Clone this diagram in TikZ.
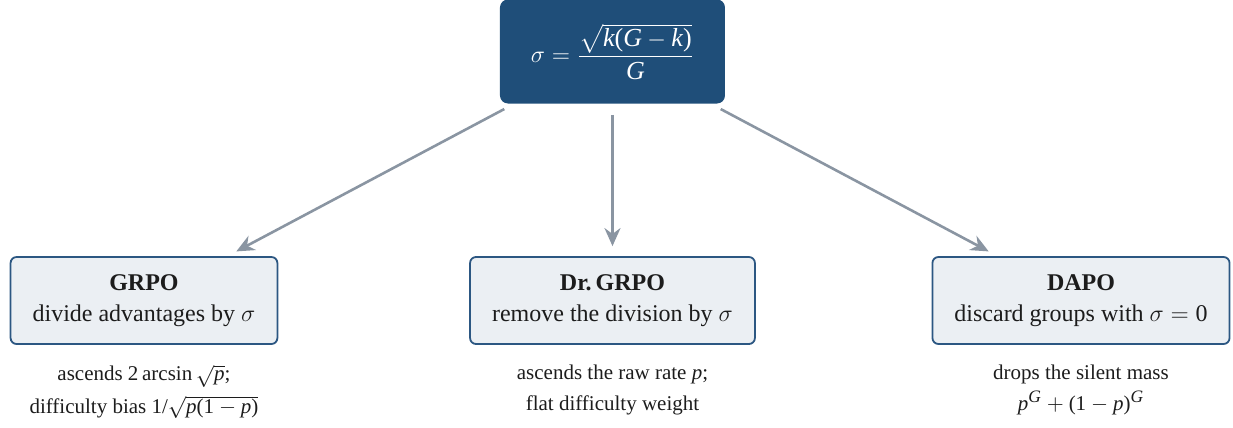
\documentclass[tikz,border=0pt]{standalone}
\usepackage{amsmath}
\usepackage[no-math]{fontspec}
\setmainfont{Liberation Serif}
\usepackage[italic,noequal,noplusnominus]{mathastext}
\usetikzlibrary{arrows.meta,positioning}

\definecolor{deepblue}{HTML}{1F4E79}
\definecolor{paleblue}{HTML}{EBEFF3}
\definecolor{edgeblue}{HTML}{2C5782}
\definecolor{linkgray}{HTML}{8A95A2}
\definecolor{inkdark}{HTML}{1C1C1C}

\begin{document}
\begin{tikzpicture}[>={Stealth[length=9pt,width=8pt]},
  branch/.style={draw=edgeblue,line width=0.9pt,fill=paleblue,
    rounded corners=3pt,minimum height=43.5pt,inner xsep=11pt,
    align=center,text=inkdark,font=\fontsize{12}{15.5}\selectfont},
  note/.style={align=center,text=inkdark,font=\fontsize{10.5}{15.5}\selectfont},
  link/.style={->,line width=1.3pt,draw=linkgray,
    shorten <=5.5pt,shorten >=5pt}]
  \useasboundingbox (-306.25pt,25.75pt) rectangle (310.25pt,-188.25pt);

  \node[fill=deepblue,rounded corners=4pt,minimum width=112.5pt,
    minimum height=52pt,text=white,font=\fontsize{13}{15}\selectfont]
    (sigma) {$\sigma=\dfrac{\sqrt{k(G-k)}}{G}$};

  \node[branch] (drgrpo) at (0pt,-124.5pt)
    {\textbf{Dr.\,GRPO}\\ remove the division by $\sigma$};
  \node[branch] (grpo) at (-234.25pt,-124.5pt)
    {\textbf{GRPO}\\ divide advantages by $\sigma$};
  \node[branch] (dapo) at (234.25pt,-124.5pt)
    {\textbf{DAPO}\\ discard groups with $\sigma=0$};

  % what each variant does to the gradient
  \node[note,below=6.5pt of grpo] (grponote)
    {ascends $2\arcsin\sqrt{p}$;\\[1pt] difficulty bias $1/\sqrt{p(1-p)}$};
  \node[note,below=6.5pt of drgrpo] (drgrponote)
    {ascends the raw rate $p$;\\ flat difficulty weight};
  \node[note,below=6.5pt of dapo] (dapnote)
    {drops the silent mass\\ $p^G+(1-p)^G$};

  \draw[link] (sigma) -- (grpo);
  \draw[link] (sigma) -- (drgrpo);
  \draw[link] (sigma) -- (dapo);
\end{tikzpicture}
\end{document}
